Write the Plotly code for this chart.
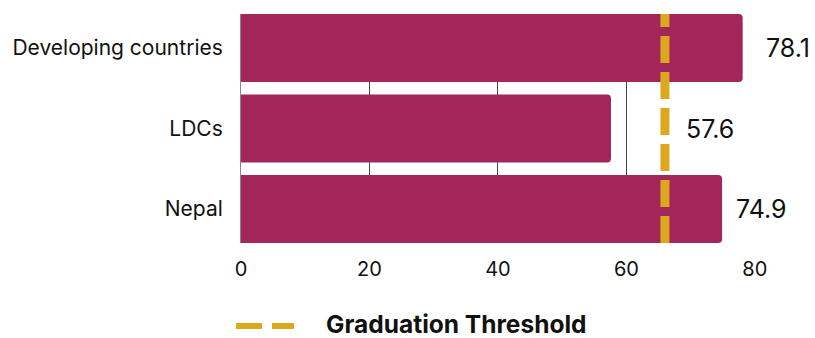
import plotly.graph_objects as go

categories = ["Developing countries", "LDCs", "Nepal"]
values = [78.1, 57.6, 74.9]
value_labels = ["78.1", "57.6", "74.9"]
threshold = 66
threshold_name = "Graduation Threshold"
x_ticks = [0, 20, 40, 60, 80]

BAR = "#A3265A"
GOLD = "#DCA81E"
FONT = "Inter"
XMAX = 80.02

# label horizontal offsets (data units beyond bar end)
label_offsets = [3.3, 11.4, 1.8]

ypos = [2, 1, 0]
fig = go.Figure()
fig.add_trace(go.Bar(
    x=values, y=ypos, orientation="h", width=0.845,
    marker=dict(color=BAR, line=dict(width=0)),
    showlegend=False, hoverinfo="x",
))

for v, y, lab, off in zip(values, ypos, value_labels, label_offsets):
    fig.add_annotation(xref="paper", x=(v + off) / XMAX, y=y, text=lab, showarrow=False,
                       xanchor="left", yanchor="middle",
                       font=dict(family=FONT, size=25, color="#111"))

fig.add_shape(type="line", xref="x", yref="paper", x0=threshold, x1=threshold, y0=0, y1=1,
              line=dict(color=GOLD, width=9, dash="27px,9px"), layer="above")

# manual legend
LEG_Y = -(326 - 243) / 229
fig.add_shape(type="line", xref="paper", yref="paper",
              x0=(236 - 241) / 514, x1=(294 - 241) / 514, y0=LEG_Y, y1=LEG_Y,
              line=dict(color=GOLD, width=6, dash="26px,10px"))
fig.add_annotation(xref="paper", yref="paper", x=(324 - 241) / 514, y=-(324 - 243) / 229,
                   text="<b>" + threshold_name + "</b>", showarrow=False, xanchor="left",
                   yanchor="middle", height=24,
                   font=dict(family=FONT, size=24.5, color="#111"))

fig.update_layout(
    width=815, height=338,
    margin=dict(l=241, r=60, t=14, b=95),
    paper_bgcolor="white", plot_bgcolor="white",
    barcornerradius=4,
    font=dict(family=FONT, color="#111"),
    showlegend=False,
    xaxis=dict(range=[0, XMAX], tickvals=x_ticks, showgrid=True, gridcolor="#444", gridwidth=1,
               zeroline=False, showline=False, tickfont=dict(size=20, color="#111"),
               ticks="", ticklabelstandoff=12, automargin=False),
    yaxis=dict(range=[-0.4225, 2.4225], tickvals=ypos, ticktext=categories, showgrid=False,
               zeroline=False, showline=True, linecolor="#888", linewidth=1,
               tickfont=dict(size=21, color="#111"), ticks="", ticklabelstandoff=13,
               automargin=False),
)

fig.write_html("out.html")
